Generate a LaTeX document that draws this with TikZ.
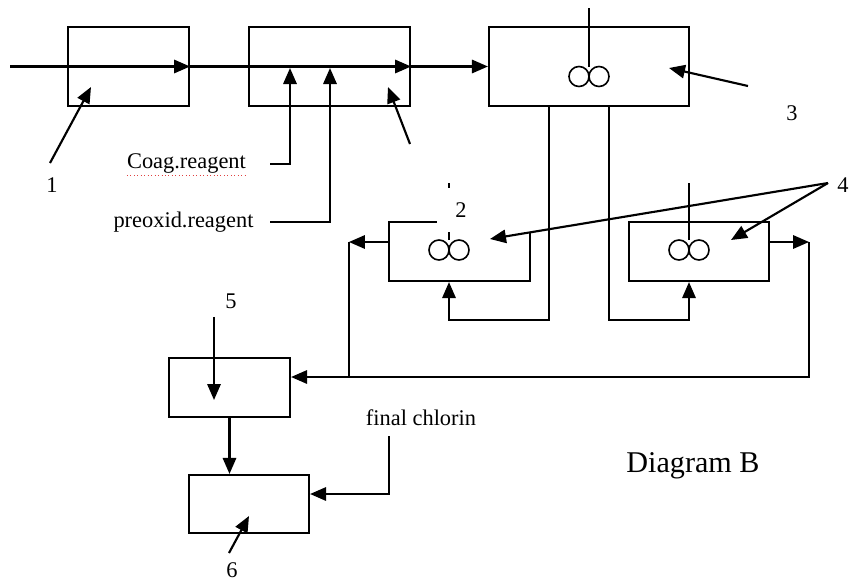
\documentclass[tikz,border=0pt]{standalone}
\usepackage{fontspec}
\setmainfont{Liberation Serif}
\usetikzlibrary{arrows.meta, positioning, calc}
\definecolor{ink}{HTML}{000000}
\definecolor{squiggle}{HTML}{E04040}
\tikzset{
  unit/.style    = {draw=ink, line width=1.6pt, rectangle, inner sep=0pt},
  flow/.style    = {-{Triangle[length=12pt, width=10pt]}, draw=ink, line width=1.6pt},
  pipe/.style    = {draw=ink, line width=1.6pt},
  paddle/.style  = {draw=ink, line width=1.2pt},
  tag/.style     = {font=\fontsize{16.8}{20}\selectfont, inner sep=0pt},
  title/.style   = {font=\fontsize{22.6}{26}\selectfont, inner sep=0pt},
}

\begin{document}
\begin{tikzpicture}[x=0.75pt, y=-0.75pt]
  \useasboundingbox (0,0) rectangle (850,582);

  % treatment units
  \node[unit, minimum width=90.75pt, minimum height=59.25pt]  (intake)  at (128.5,66.5) {};
  \node[unit, minimum width=120.75pt, minimum height=59.25pt] (preox)   at (329.5,66.5) {};
  \node[unit, minimum width=150pt, minimum height=59.25pt]    (mixer)   at (589,66.5) {};
  \node[unit, minimum width=105.75pt, minimum height=44.25pt] (settleL) at (459.5,251.5) {};
  \node[unit, minimum width=105pt, minimum height=44.25pt]    (settleR) at (699,251.5) {};
  \node[unit, minimum width=90.75pt, minimum height=44.25pt]  (filter)  at (229.5,387.5) {};
  \node[unit, minimum width=90pt, minimum height=43.5pt]      (chlor)   at (249,504) {};

  % stirrers
  \foreach \cx/\cy/\top in {589/76.5/8, 449/250/183, 689/250/183} {
    \draw[pipe] (\cx,\top) -- (\cx,\cy-10);
    \draw[paddle] (\cx-10,\cy) circle[radius=7.5pt] (\cx+10,\cy) circle[radius=7.5pt];
  }
  \node[fill=white, inner sep=0pt, minimum width=72pt, minimum height=33pt] (mask) at (485,210) {};

  % labels
  \node[tag] (n1) at (52,185) {1};
  \node[tag] (n2) at (461,210) {2};
  \node[tag] (n3) at (792,113) {3};
  \node[tag] (n4) at (843,185) {4};
  \node[tag] (n5) at (231,301) {5};
  \node[tag] (n6) at (232,570) {6};
  \node[tag] (coag) at (186.5,163) {Coag.reagent};
  \node[tag] (preoxid) at (183.5,222) {preoxid.reagent};
  \node[tag] (fcl) at (421,418) {final chlorin};
  \node[title] (diag) at (693,466) {Diagram B};
  \draw[squiggle, line width=0.6pt, dotted] ($(coag.south west)+(0,2)$) -- ($(coag.south east)+(0,2)$);

  % main line
  \coordinate (inlet) at (10,66.5);
  \draw[flow] (inlet) -- (intake.east);
  \draw[flow] (intake.east) -- (preox.east);
  \draw[flow] (preox.east) -- (mixer.west);

  % dosing
  \draw[flow] (270,164) -| (290,68);
  \draw[flow] (270,222) -| (330,68);
  \draw[flow] (50,163) -- (91,87);
  \draw[flow] (410,144) -- (388,87);
  \draw[flow] (748,86) -- (669,68);
  \draw[flow] (828,183) -- (490,239);
  \draw[flow] (828,183) -- (731,240);

  % settling
  \draw[flow] ($(mixer.south)+(-40,0)$) |- ($(settleL.south)+(-10.5,38)$) -- ($(settleL.south)+(-10.5,0)$);
  \draw[flow] ($(mixer.south)+(20,0)$) |- ($(settleR.south)+(-10,38)$) -- ($(settleR.south)+(-10,0)$);
  \draw[flow] ($(settleR.east)+(0,-9.5)$) -- ++(39,0) coordinate (eout);
  \draw[flow] (eout) |- ($(filter.east)+(0,-10.5)$);
  \draw[flow] ($(settleL.west)+(0,-9.5)$) -- ++(-39,0) coordinate (wout);
  \draw[pipe] (wout) -- (wout |- 0,377);

  % filtration and disinfection
  \draw[flow] ($(filter.north)+(-15.5,-40)$) -- ($(filter.center)+(-15.5,12.5)$);
  \draw[flow] (filter.south) -- (filter.south |- chlor.north);
  \draw[flow] (389,436) |- ($(chlor.east)+(0,-10)$);
  \draw[flow] (229,553) -- (249,516);
\end{tikzpicture}
\end{document}
